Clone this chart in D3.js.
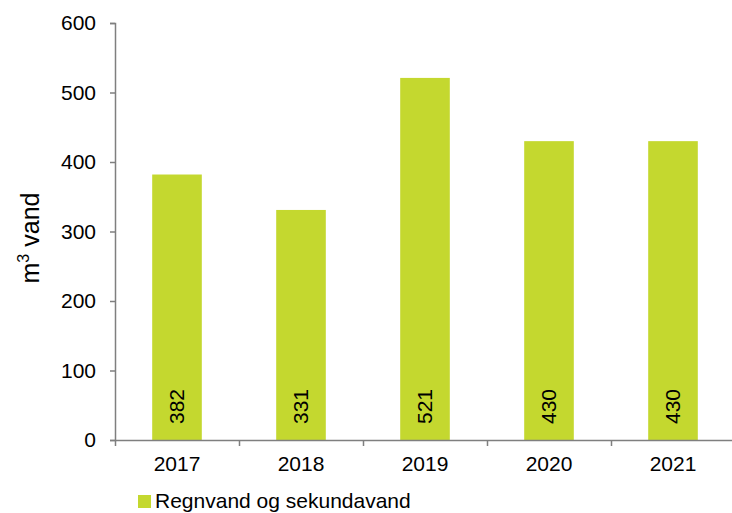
<!DOCTYPE html>
<html>
<head>
<meta charset="utf-8">
<script src="https://cdn.jsdelivr.net/npm/d3@7"></script>
<style>
  body { margin: 0; background: #fff; }
  text { font-family: "Liberation Sans", Arial, sans-serif; fill: #000; }
</style>
</head>
<body>
<div id="graph1"></div>
<script>
const years = ["2017", "2018", "2019", "2020", "2021"]
const values = [382, 331, 521, 430, 430]
const yTicks = [0, 100, 200, 300, 400, 500, 600]
const seriesName = "Regnvand og sekundavand"

const width = 732, height = 513
const margin = {left: 115, top: 23, right: -3, bottom: 73}
const barColor = "#c4d82f"
const axisColor = "#7f7f7f"

let svg = d3.select("#graph1")
    .append("svg")
    .attr("width", width)
    .attr("height", height)

let y = d3.scaleLinear()
    .domain([0, 600])
    .range([height - margin.bottom, margin.top])

let x = d3.scaleBand()
    .domain(years)
    .range([margin.left, width - margin.right])
    .paddingInner(0.6)
    .paddingOuter(0.3)

// boundary ticks between categories
let xb = d3.scaleLinear()
    .domain([0, years.length])
    .range([margin.left, width - margin.right])

// bars
svg.append("g").selectAll("rect")
    .data(values)
    .enter()
    .append("rect")
    .attr("fill", barColor)
    .attr("x", function(d, i){ return x(years[i]) })
    .attr("y", function(d){ return y(d) })
    .attr("width", x.bandwidth())
    .attr("height", function(d){ return y(0) - y(d) })

// y axis
let yAxis = svg.append("g")
    .attr("transform", `translate(${margin.left},0)`)
    .call(d3.axisLeft(y).tickValues(yTicks).tickSize(5).tickPadding(14))
yAxis.select(".domain").attr("stroke", axisColor).attr("stroke-width", 1.5)
yAxis.selectAll(".tick line").attr("stroke", axisColor).attr("stroke-width", 1.5)
yAxis.selectAll("text").style("font-size", "21px").attr("fill", "#000")

// x axis line with boundary ticks
let xAxis = svg.append("g")
    .attr("transform", `translate(0,${y(0)})`)
    .call(d3.axisBottom(xb).ticks(years.length).tickSize(6).tickSizeOuter(0).tickFormat(""))
xAxis.select(".domain").attr("stroke", axisColor).attr("stroke-width", 1.5)
xAxis.selectAll(".tick line").attr("stroke", axisColor).attr("stroke-width", 1.5)

// year labels
let xLabels = svg.append("g")
    .attr("transform", `translate(0,${y(0)})`)
    .call(d3.axisBottom(x).tickSize(0).tickPadding(16))
xLabels.select(".domain").remove()
xLabels.selectAll("text").style("font-size", "21px").attr("fill", "#000")

// value labels inside bars
svg.append("g").selectAll("text")
    .data(values)
    .enter()
    .append("text")
    .attr("transform", function(d, i){
        return `translate(${x(years[i]) + x.bandwidth() / 2},${y(0) - 16}) rotate(-90)`
    })
    .attr("dy", "0.35em")
    .style("text-anchor", "start")
    .style("font-size", "21px")
    .text(function(d){ return d })

// y axis title
let ytitle = svg.append("text")
    .attr("transform", "translate(30,238) rotate(-90)")
    .attr("dy", "0.35em")
    .style("text-anchor", "middle")
    .style("font-size", "25px")
ytitle.append("tspan").text("m")
ytitle.append("tspan").attr("dy", "-10").style("font-size", "16px").text("3")
ytitle.append("tspan").attr("dy", "10").text(" vand")

// legend
let legend = svg.append("g").attr("transform", "translate(138,495)")
legend.append("rect")
    .attr("width", 13).attr("height", 13)
    .attr("fill", barColor)
legend.append("text")
    .attr("x", 17).attr("y", 13)
    .style("font-size", "21px")
    .text(seriesName)
</script>
</body>
</html>
